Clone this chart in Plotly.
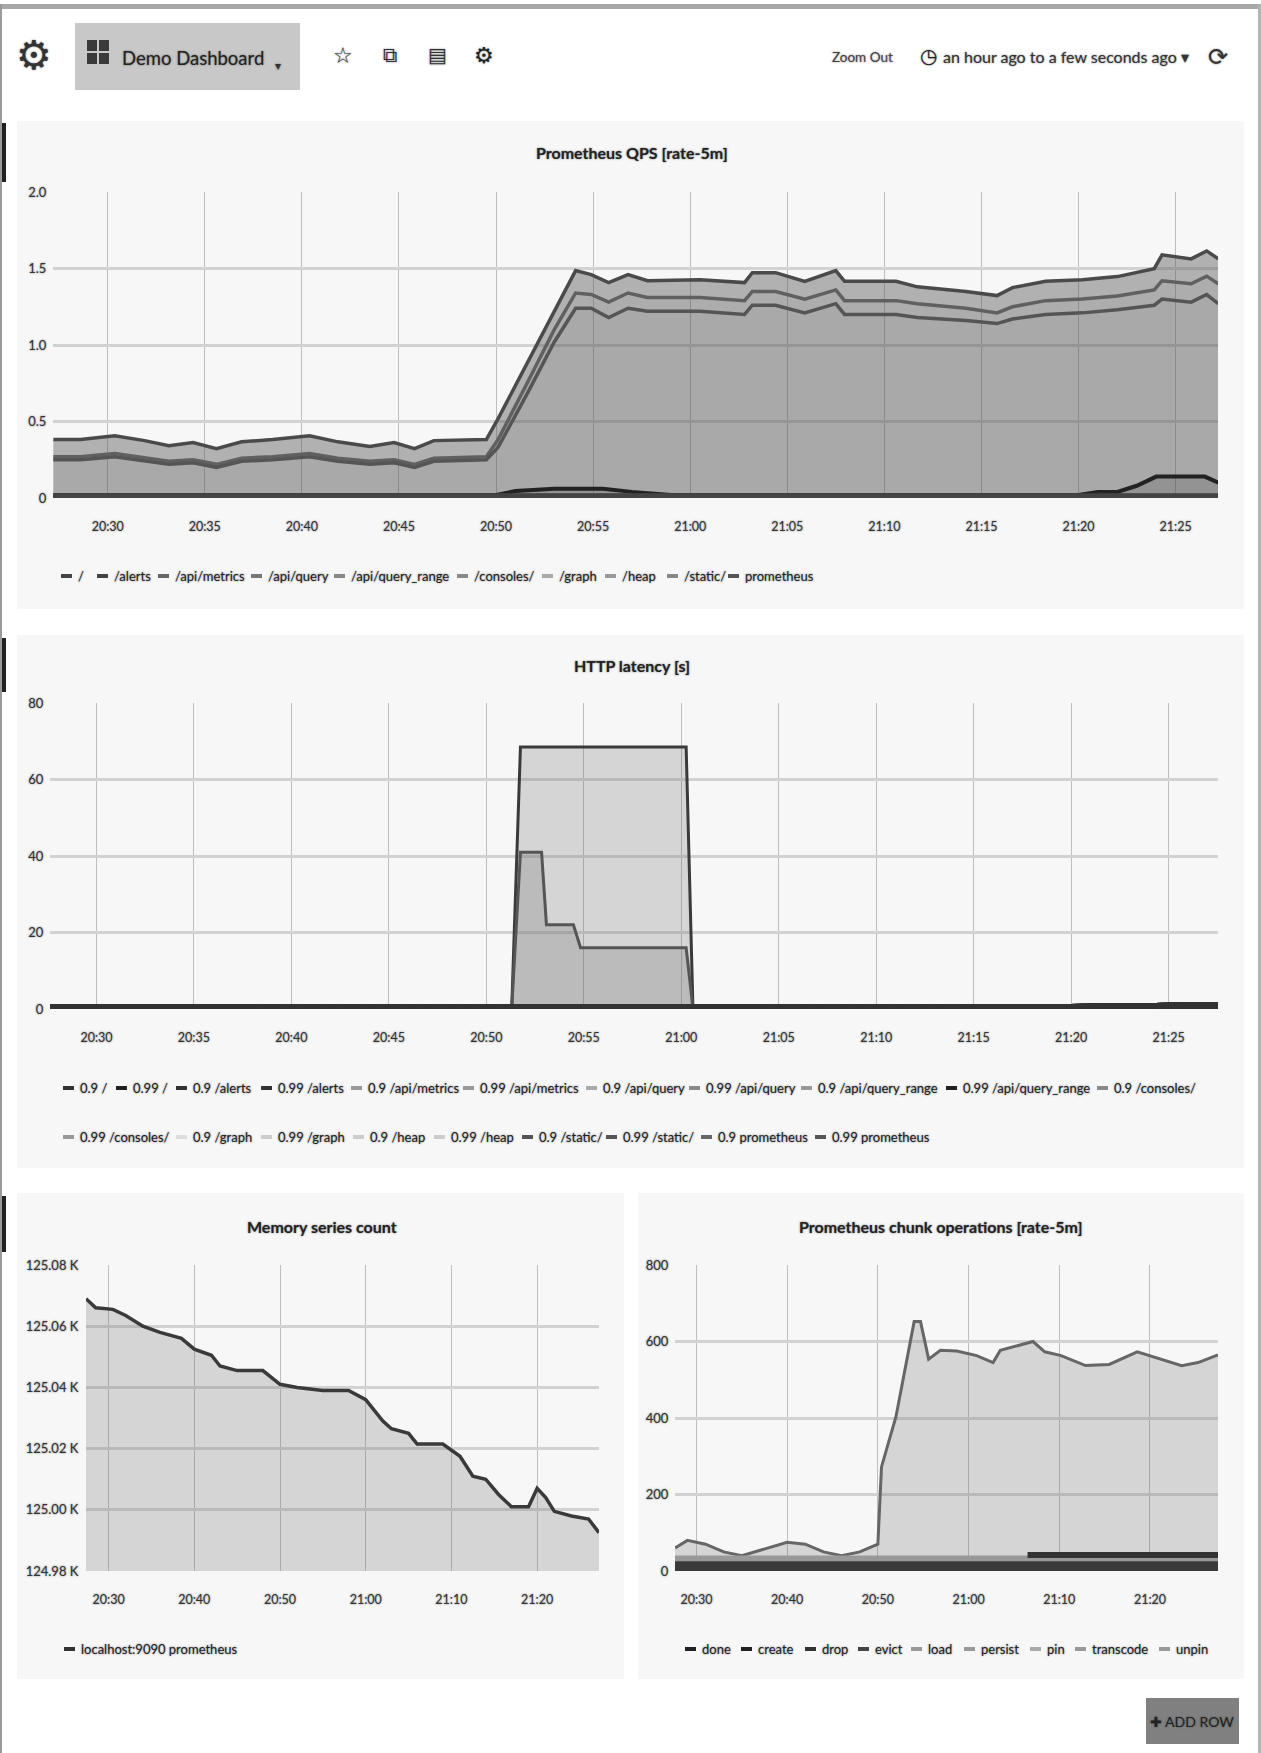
import plotly.graph_objects as go

W = 1261
H = 1753
DAY = "2015-03-01 "
FONT = "Lato"
SOFT = "0 0 2px rgba(60,60,60,0.7)"
# the paper area comes out a little shorter than the page, these are the gaps it leaves
GAP_TOP = 8
GAP_BOTTOM = 8

# ------------------------------------------------------
# Prometheus QPS
qps_labels = ["/", "/alerts", "/api/metrics", "/api/query", "/api/query_range",
              "/consoles/", "/graph", "/heap", "/static/", "prometheus"]
qps_ticks = [0, 0.5, 1.0, 1.5, 2.0]
qps_tick_text = ["0", "0.5", "1.0", "1.5", "2.0"]
qps_time = ["20:27:12", "20:28:36", "20:30:22", "20:31:54", "20:33:09", "20:34:24", "20:35:36", "20:36:54",
            "20:38:30", "20:40:24", "20:41:51", "20:43:30", "20:44:45", "20:45:48", "20:46:48", "20:49:30",
            "20:50:06", "20:51:36", "20:53:00", "20:54:06", "20:54:54", "20:55:48", "20:56:48", "20:57:48",
            "21:00:30", "21:02:48", "21:03:12", "21:04:24", "21:05:54", "21:07:30", "21:07:57", "21:10:36",
            "21:11:42", "21:14:12", "21:15:48", "21:16:36", "21:18:18", "21:20:12", "21:22:00", "21:23:54",
            "21:24:18", "21:25:48", "21:26:36", "21:27:12"]
qps_top = [.382, .382, .406, .375, .341, .362, .323, .367, .382, .406, .367, .336, .362, .323, .375, .382,
           .517, .88, 1.21, 1.486, 1.46, 1.408, 1.46, 1.42, 1.426, 1.408, 1.473, 1.473,
           1.416, 1.486, 1.416, 1.416, 1.38, 1.349, 1.323, 1.375, 1.416, 1.426, 1.447, 1.499,
           1.589, 1.563, 1.615, 1.563]
qps_mid = [.27, .27, .29, .26, .24, .25, .22, .26, .27, .29, .26, .24, .25, .22, .26, .27,
           .38, .75, 1.10, 1.34, 1.33, 1.28, 1.34, 1.31, 1.31, 1.29, 1.35, 1.35,
           1.30, 1.36, 1.29, 1.29, 1.27, 1.24, 1.21, 1.25, 1.29, 1.30, 1.32, 1.36,
           1.42, 1.40, 1.45, 1.40]
qps_low = [.25, .25, .27, .24, .22, .23, .20, .24, .25, .27, .24, .22, .23, .20, .24, .25,
           .33, .68, 1.02, 1.24, 1.24, 1.18, 1.24, 1.22, 1.22, 1.20, 1.26, 1.26,
           1.21, 1.27, 1.20, 1.20, 1.18, 1.16, 1.14, 1.17, 1.20, 1.21, 1.23, 1.26,
           1.30, 1.28, 1.33, 1.27]
bump_time = ["20:27:12", "20:50:00", "20:51:00", "20:53:00", "20:55:30", "20:57:00", "20:59:00",
             "21:20:00", "21:21:00", "21:22:00", "21:23:00", "21:24:00", "21:26:30", "21:27:12"]
qps_bump = [.02, .02, .045, .06, .06, .04, .02, .02, .04, .04, .08, .14, .14, .10]
flat_time = ["20:27:12", "21:27:12"]
qps_flat = [.012, .012]

# HTTP latency
latency_labels = ["0.9 /", "0.99 /", "0.9 /alerts", "0.99 /alerts", "0.9 /api/metrics", "0.99 /api/metrics",
                  "0.9 /api/query", "0.99 /api/query", "0.9 /api/query_range", "0.99 /api/query_range",
                  "0.9 /consoles/", "0.99 /consoles/", "0.9 /graph", "0.99 /graph", "0.9 /heap", "0.99 /heap",
                  "0.9 /static/", "0.99 /static/", "0.9 prometheus", "0.99 prometheus"]
lat_high_time = ["20:27:37", "20:51:18", "20:51:45", "21:00:15", "21:00:36", "21:27:32"]
lat_high = [0, 0, 68.5, 68.5, 0, 0]
lat_q90_time = ["20:27:37", "20:51:18", "20:51:45", "20:52:50", "20:53:05", "20:54:28", "20:54:50",
                "21:00:15", "21:00:36", "21:27:32"]
lat_q90 = [0, 0, 41, 41, 22, 22, 16, 16, 0, 0]
lat_base_time = ["20:27:37", "20:50:30", "21:20:00", "21:27:32"]
lat_base = [.4, .5, .5, 1.0]

# Memory series count
mem_label = "localhost:9090 prometheus"
mem_time = ["20:27:22", "20:28:30", "20:30:30", "20:32:00", "20:34:00", "20:36:00", "20:38:30", "20:40:00",
            "20:42:00", "20:43:00", "20:45:00", "20:48:00", "20:50:00", "20:52:00", "20:55:00", "20:58:00",
            "21:00:00", "21:02:00", "21:03:00", "21:05:00", "21:06:00", "21:09:00", "21:11:00", "21:12:30",
            "21:14:00", "21:15:30", "21:17:00", "21:19:00", "21:20:00", "21:21:00", "21:22:00", "21:24:00",
            "21:26:00", "21:27:13"]
mem_values = [125.069, 125.066, 125.0655, 125.0635, 125.060, 125.058, 125.056, 125.0525,
              125.0505, 125.047, 125.0455, 125.0455, 125.041, 125.040, 125.039, 125.039,
              125.036, 125.029, 125.0265, 125.025, 125.0215, 125.0215, 125.0175, 125.011,
              125.010, 125.005, 125.001, 125.001, 125.007, 125.004, 124.9995, 124.998,
              124.997, 124.9925]

# Prometheus chunk operations
chunk_labels = ["done", "create", "drop", "evict", "load", "persist", "pin", "transcode", "unpin"]
chunk_time = ["20:27:38", "20:29:00", "20:31:00", "20:33:00", "20:35:00", "20:38:00", "20:40:00", "20:42:00",
              "20:44:00", "20:46:00", "20:48:00", "20:50:00", "20:50:24", "20:52:00", "20:54:00", "20:54:42",
              "20:55:36", "20:56:54", "20:58:42", "21:00:54", "21:02:42", "21:03:30", "21:07:06", "21:08:24",
              "21:10:12", "21:12:54", "21:15:30", "21:18:36", "21:21:18", "21:23:30", "21:25:18", "21:27:30"]
chunk_top = [60, 80, 70, 50, 40, 60, 75, 70, 50, 40, 50, 70, 272, 404, 652, 652,
             554, 577, 575, 563, 545, 577, 600, 573, 563, 537, 540, 573, 554, 537, 545, 565]
chunk_low_time = ["20:27:38", "21:27:30"]
chunk_persist = [33, 33]
chunk_done = [10, 10]
chunk_create_time = ["21:06:30", "21:27:30"]
chunk_create = [42, 42]

# header and legend text
title_qps = "Prometheus QPS [rate-5m]"
title_latency = "HTTP latency [s]"
title_mem = "Memory series count"
title_chunk = "Prometheus chunk operations [rate-5m]"

# legend text lefts, in page pixels
qps_legend_x = [76, 112, 173, 266, 349, 472, 557, 620, 682, 743]
latency_row1_x = [78, 131, 191, 276, 366, 478, 601, 704, 816, 961, 1112]
latency_row2_x = [78, 191, 276, 368, 449, 537, 621, 716, 830]
chunk_legend_x = [700, 756, 820, 873, 926, 979, 1045, 1090, 1174]


def hms(times):
    return [DAY + t for t in times]


def py(y):
    return 1 - (y - GAP_TOP) / (H - GAP_TOP - GAP_BOTTOM)


def dom_x(x0, x1):
    return [x0 / W, x1 / W]


def dom_y(y0, y1):
    return [py(y1), py(y0)]


fig = go.Figure()
shapes = []
annotations = []


def rect(x0, y0, x1, y1, color):
    shapes.append(dict(type="rect", xref="paper", yref="paper", layer="below", line_width=0, fillcolor=color,
                       x0=x0 / W, x1=x1 / W, y0=py(y0), y1=py(y1)))


def text(x, y, s, size=15, color="#333", anchor="center", family=FONT):
    annotations.append(dict(xref="paper", yref="paper", x=x / W, y=py(y), text=s, showarrow=False,
                            xanchor=anchor, yanchor="middle",
                            font=dict(family=family, size=size, color=color, shadow=SOFT)))


def legend_row(labels, lefts, y, colors):
    for lab, left, c in zip(labels, lefts, colors):
        shapes.append(dict(type="line", xref="paper", yref="paper", line=dict(color=c, width=4),
                           x0=(left - 15) / W, x1=(left - 4) / W, y0=py(y), y1=py(y)))
        text(left, y, lab, size=13, color="#222", anchor="left")


def add_line(ax, x, y, name, color="#444", width=3, fill=None):
    fig.add_trace(go.Scatter(x=hms(x), y=y, name=name, mode="lines", xaxis="x" + ax, yaxis="y" + ax,
                             line=dict(color=color, width=width), fill="tozeroy" if fill else None,
                             fillcolor=fill, showlegend=False))


def axis_pair(ax, xdom, ydom, xrange, yrange, dtick_min, ystand, **yextra):
    fig.update_layout({
        "xaxis" + ax: dict(domain=xdom, range=[DAY + xrange[0], DAY + xrange[1]], type="date",
                           anchor="y" + ax, dtick=dtick_min * 60000, tickformat="%H:%M",
                           tick0=DAY + "20:30:00", showgrid=True, gridcolor="#bdbdbd", gridwidth=1,
                           ticks="outside", ticklen=17, tickcolor="rgba(0,0,0,0)", zeroline=False,
                           showline=False, tickfont=dict(family=FONT, size=12.5, color="#333", shadow=SOFT)),
        "yaxis" + ax: dict(domain=ydom, range=yrange, anchor="x" + ax, showgrid=True,
                           gridcolor="#d2d2d2", gridwidth=3, zeroline=False, showline=False,
                           ticks="outside", ticklen=ystand, tickcolor="rgba(0,0,0,0)",
                           tickfont=dict(family=FONT, size=13, color="#333", shadow=SOFT), **yextra),
    })


# page furniture
rect(0, 4, W, 9, "#a8a8a8")
rect(0, 4, 2, H, "#9a9a9a")
rect(1258, 4, 1261, H, "#b4b4b4")
rect(17, 121, 1244, 609, "#f7f7f7")
rect(17, 635, 1244, 1168, "#f7f7f7")
rect(17, 1193, 624, 1679, "#f7f7f7")
rect(638, 1193, 1244, 1679, "#f7f7f7")
rect(2, 123, 6, 182, "#222")
rect(2, 638, 6, 692, "#222")
rect(2, 1196, 6, 1252, "#222")

# top bar
rect(75, 23, 300, 90, "#c8c8c8")
for gx in (87, 99):
    for gy in (40, 53):
        rect(gx, gy, gx + 10, gy + 11, "#3a3a3a")
text(34, 55, "⚙", size=40, color="#333", family="DejaVu Sans")
text(120, 58, "Demo Dashboard", size=18.5, color="#222", anchor="left")
text(278, 66, "▾", size=12, color="#333", family="DejaVu Sans")
text(343, 56, "☆", size=22, color="#333", family="DejaVu Sans")
text(390, 55, "⧉", size=20, color="#333", family="DejaVu Sans")
text(437, 55, "▤", size=20, color="#333", family="DejaVu Sans")
text(484, 55, "⚙", size=22, color="#222", family="DejaVu Sans")
text(862, 57, "Zoom Out", size=13.5, color="#444")
text(928, 56, "◷", size=20, color="#222", family="DejaVu Sans")
text(941, 57, "an hour ago to a few seconds ago ▾", size=16, color="#333", anchor="left")
text(1218, 57, "⟳", size=24, color="#333", family="DejaVu Sans")
rect(1146, 1698, 1239, 1744, "#808080")
text(1192, 1721, "✚ ADD ROW", size=14, color="#222")

# panel titles
text(632, 153, "<b>" + title_qps + "</b>", size=16, color="#222")
text(632, 665, "<b>" + title_latency + "</b>", size=16, color="#222")
text(322, 1226, "<b>" + title_mem + "</b>", size=16, color="#222")
text(941, 1226, "<b>" + title_chunk + "</b>", size=16, color="#222")

# QPS panel
axis_pair("", dom_x(53, 1218), dom_y(192, 498), ["20:27:11", "21:27:11"], [0, 2], 5, 3,
          tickmode="array", tickvals=qps_ticks, ticktext=qps_tick_text)
add_line("", qps_time, qps_top, "prometheus", "#4a4a4a", 3.5, "rgba(80,80,80,0.42)")
add_line("", qps_time, qps_mid, "/heap", "#606060", 3.5, "rgba(80,80,80,0.04)")
add_line("", qps_time, qps_low, "/graph", "#555", 3.5, "rgba(80,80,80,0.04)")
add_line("", bump_time, qps_bump, "/api/metrics", "#222", 4, "rgba(60,60,60,0.2)")
for lab in ("/", "/alerts", "/api/query", "/api/query_range", "/consoles/", "/static/"):
    add_line("", flat_time, qps_flat, lab, "#444", 5)
legend_row(qps_labels, qps_legend_x, 576,
           ["#444", "#444", "#666", "#777", "#888", "#888", "#aaa", "#999", "#888", "#555"])

# latency panel
axis_pair("2", dom_x(50, 1218), dom_y(703, 1009), ["20:27:37", "21:27:32"], [0, 80], 5, 3, dtick=20)
add_line("2", lat_high_time, lat_high, "0.99 /api/query_range", "#3a3a3a", 3, "rgba(110,110,110,0.25)")
add_line("2", lat_q90_time, lat_q90, "0.9 /api/query_range", "#555", 3, "rgba(110,110,110,0.25)")
for lab in latency_labels:
    if "query_range" not in lab:
        add_line("2", lat_base_time, lat_base, lab, "#333", 6)
latency_colors = ["#333", "#222", "#333", "#333", "#999", "#999", "#aaa", "#888", "#999", "#222", "#888"]
legend_row(latency_labels[:11], latency_row1_x, 1088, latency_colors)
legend_row(latency_labels[11:], latency_row2_x, 1137,
           ["#999", "#ddd", "#ccc", "#ccc", "#ccc", "#555", "#555", "#666", "#555"])

# memory panel
axis_pair("3", dom_x(86, 599), dom_y(1265, 1571), ["20:27:22", "21:27:13"], [124.98, 125.08], 10, 4,
          dtick=0.02, tickformat=".2f", ticksuffix=" K")
add_line("3", mem_time, mem_values, mem_label, "#3a3a3a", 3.5, "rgba(110,110,110,0.25)")
legend_row([mem_label], [79], 1649, ["#333"])

# chunk panel
axis_pair("4", dom_x(675, 1218), dom_y(1265, 1571), ["20:27:38", "21:27:30"], [0, 800], 10, 3, dtick=200)
add_line("4", chunk_time, chunk_top, "load", "#666", 3, "rgba(110,110,110,0.25)")
add_line("4", chunk_low_time, chunk_persist, "persist", "#999", 6, "rgba(60,60,60,0.25)")
add_line("4", chunk_create_time, chunk_create, "create", "#333", 6)
add_line("4", chunk_low_time, chunk_done, "done", "#3a3a3a", 12)
legend_row(chunk_labels, chunk_legend_x, 1649,
           ["#222", "#222", "#333", "#444", "#999", "#999", "#aaa", "#999", "#999"])

fig.update_layout(width=W, height=H, margin=dict(l=0, r=0, t=0, b=0), autosize=False,
                  paper_bgcolor="white", plot_bgcolor="rgba(0,0,0,0)", shapes=shapes,
                  annotations=annotations, showlegend=False)

fig.write_html("out.html", config={"displayModeBar": False},
               post_script="document.body.style.margin = '0';")
